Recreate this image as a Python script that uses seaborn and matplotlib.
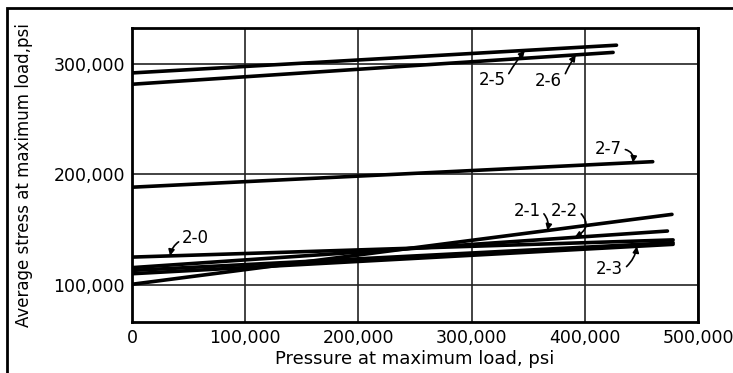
import numpy as np
import pandas as pd
import seaborn as sns
import matplotlib
matplotlib.use("Agg")
import matplotlib.pyplot as plt
from matplotlib.patches import Rectangle

# test lines: straight lines (start at 0 psi pressure)
tests = ["2-0", "2-1", "2-2", "2-3", "2-4", "2-5", "2-6", "2-7"]
p_start = [0, 0, 0, 0, 0, 0, 0, 0]
p_end = [478000, 477000, 473000, 478000, 478000, 428000, 425000, 460000]
s_start = [125500, 101000, 116000, 110500, 113500, 291500, 281300, 188500]
s_end = [141000, 164000, 149000, 137000, 138500, 316500, 310000, 211500]

# hand-lettered labels with arrows
lab_test = ["2-0", "2-5", "2-6", "2-7", "2-1", "2-2", "2-3"]
lab_x = [56000, 318000, 368000, 421000, 349000, 382000, 422000]
lab_y = [143000, 285500, 284000, 223000, 167500, 167500, 114400]
tip_x = [33600, 347000, 392000, 442600, 367000, 391000, 446000]
arc_rad = [0.35, -0.05, -0.05, -0.5, -0.3, -0.7, 0.2]
rel_x = [0.3, 1.0, 1.0, 1.0, 1.0, 1.0, 1.0]

x_ticks = [0, 100000, 200000, 300000, 400000, 500000]
y_ticks = [100000, 200000, 300000]

rows = []
for t, x0, x1, y0, y1 in zip(tests, p_start, p_end, s_start, s_end):
    rows.append({"test": t, "pressure": x0, "stress": y0})
    rows.append({"test": t, "pressure": x1, "stress": y1})
df = pd.DataFrame(rows)

sns.set_style("white")
plt.rcParams["font.family"] = ["DejaVu Sans"]
plt.rcParams["text.color"] = "black"
plt.rcParams["axes.labelcolor"] = "black"
plt.rcParams["xtick.color"] = "black"
plt.rcParams["ytick.color"] = "black"

fig = plt.figure(figsize=(7.33, 3.73), dpi=100)
ax = fig.add_axes([132 / 733, 1 - 322 / 373, (698 - 132) / 733, (322 - 28) / 373])

ax.set_xlim(0, 500000)
ax.set_ylim(67000, 332000)
ax.set_xticks(x_ticks)
ax.set_yticks(y_ticks)
ax.set_xticklabels([f"{v:,}" for v in x_ticks], fontsize=12.5)
ax.set_yticklabels([f"{v:,}" for v in y_ticks], fontsize=12.5)
ax.tick_params(length=0, pad=5)
ax.grid(True, color="#222222", lw=1.2)
ax.set_axisbelow(True)
for s in ax.spines.values():
    s.set_color("black")
    s.set_linewidth(2)

sns.lineplot(data=df, x="pressure", y="stress", units="test", estimator=None,
             color="black", lw=2.6, ax=ax, zorder=3)

ax.set_xlabel("Pressure at maximum load, psi", fontsize=13, labelpad=2)
ax.set_ylabel("Average stress at maximum load,psi", fontsize=12)
ax.yaxis.set_label_coords(-0.175, 0.5)

for t, lx, ly, tx, rad, rx in zip(lab_test, lab_x, lab_y, tip_x, arc_rad, rel_x):
    i = tests.index(t)
    ty = np.interp(tx, [p_start[i], p_end[i]], [s_start[i], s_end[i]])
    ax.annotate(t, xy=(tx, ty), xytext=(lx, ly), ha="center", va="center",
                fontsize=12,
                arrowprops=dict(arrowstyle="-|>", color="black", lw=1.2,
                                mutation_scale=9, shrinkA=0, shrinkB=0,
                                relpos=(rx, 0.5),
                                connectionstyle=f"arc3,rad={rad}"),
                zorder=4)

# outer frame of the scan (left and top edges visible)
fig.patches.append(Rectangle((7 / 733, -0.1), 1.2, 1.1 - 8 / 373, fill=False,
                             lw=2, ec="black", transform=fig.transFigure))

fig.savefig("out.png", dpi=100)
